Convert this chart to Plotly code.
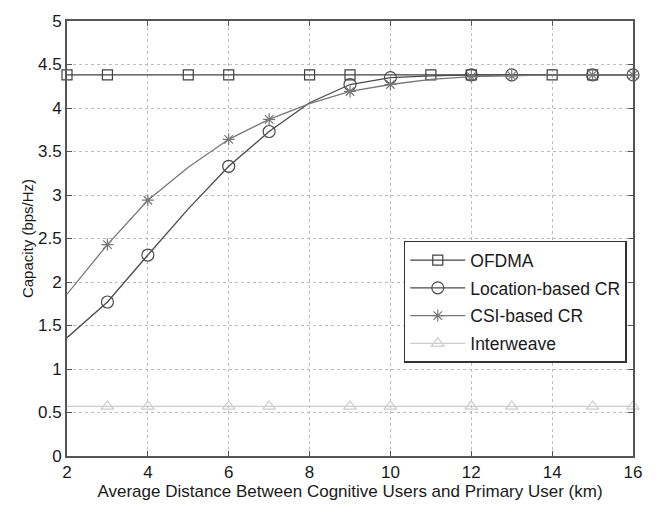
import plotly.graph_objects as go

# ---- data ----
distance = [2, 3, 4, 5, 6, 7, 8, 9, 10, 11, 12, 13, 14, 15, 16]
ofdma = [4.38] * 15
location_cr = [1.36, 1.77, 2.31, 2.84, 3.33, 3.73, 4.06, 4.27, 4.35, 4.37, 4.38, 4.38, 4.38, 4.38, 4.38]
csi_cr = [1.86, 2.43, 2.94, 3.32, 3.64, 3.87, 4.05, 4.19, 4.27, 4.33, 4.36, 4.37, 4.38, 4.38, 4.38]
interweave = [0.57] * 15

ofdma_marks = [2, 3, 5, 6, 8, 9, 11, 12, 14, 15]
other_marks = [3, 4, 6, 7, 9, 10, 12, 13, 15, 16]

x_ticks = [2, 4, 6, 8, 10, 12, 14, 16]
y_ticks = [0, 0.5, 1, 1.5, 2, 2.5, 3, 3.5, 4, 4.5, 5]
y_tick_labels = ["0", "0.5", "1", "1.5", "2", "2.5", "3", "3.5", "4", "4.5", "5"]

series = [
    ("OFDMA", ofdma, ofdma_marks, "#404040", "square-open", 10),
    ("Location-based CR", location_cr, other_marks, "#4a4a4a", "circle-open", 12),
    ("CSI-based CR", csi_cr, other_marks, "#777777", "asterisk-open", 10),
    ("Interweave", interweave, other_marks, "#cccccc", "triangle-up-open", 11),
]

fig = go.Figure()
for i, (name, vals, marks, color, sym, size) in enumerate(series):
    fig.add_trace(go.Scatter(x=distance, y=vals, mode="lines",
                             line=dict(color=color, width=1.3), showlegend=False,
                             hoverinfo="skip"))
    my = [vals[distance.index(x)] for x in marks]
    fig.add_trace(go.Scatter(x=marks, y=my, mode="markers",
                             marker=dict(symbol=sym, size=size, color=color,
                                         line=dict(color=color, width=1.2)),
                             showlegend=False, cliponaxis=False))
    fig.add_trace(go.Scatter(x=[None], y=[None], mode="lines+markers", name=name,
                             legendgroup=f"g{i}",
                             line=dict(color=color, width=1.3),
                             marker=dict(symbol=sym, size=size, color=color,
                                         line=dict(color=color, width=1.2))))

axis_common = dict(
    showline=True, linecolor="#555555", linewidth=2, mirror="ticks",
    ticks="inside", ticklen=5, tickcolor="#555555",
    showgrid=True, gridcolor="#bdbdbd", griddash="dot", gridwidth=1,
    zeroline=False, tickfont=dict(size=17, color="#1a1a1a"),
)

fig.update_layout(
    width=656, height=507,
    margin=dict(l=67, r=23, t=15, b=45),
    paper_bgcolor="white", plot_bgcolor="white",
    font=dict(family="Liberation Sans, Arial, sans-serif", color="#1a1a1a"),
    xaxis=dict(range=[2, 16], tickvals=x_ticks, ticktext=[str(t) for t in x_ticks],
               title=dict(text="Average Distance Between Cognitive Users and Primary User (km)",
                          font=dict(size=17), standoff=1),
               **axis_common),
    yaxis=dict(range=[0, 5], tickvals=y_ticks, ticktext=y_tick_labels,
               title=dict(text="Capacity (bps/Hz)", font=dict(size=15), standoff=1),
               **axis_common),
    legend=dict(x=0.595, y=0.495, xanchor="left", yanchor="top",
                bgcolor="white", bordercolor="#333333", borderwidth=1.5,
                font=dict(size=17.5, color="#1a1a1a"),
                itemwidth=55,
                traceorder="grouped", tracegroupgap=2),
    showlegend=True,
)

fig.write_html("out.html")
